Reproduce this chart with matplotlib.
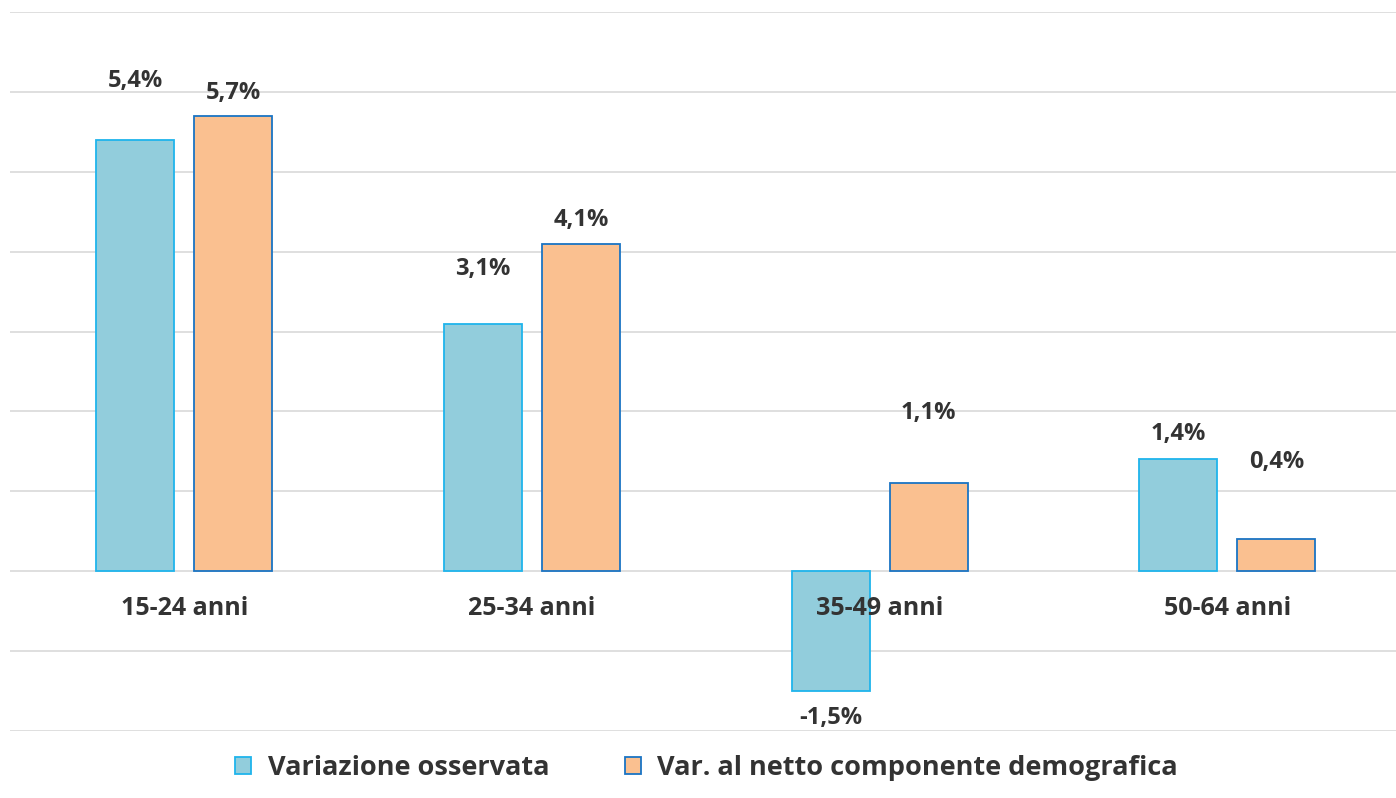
import matplotlib
matplotlib.use("Agg")
import matplotlib.pyplot as plt
from matplotlib.patches import Patch
from matplotlib.transforms import offset_copy
import numpy as np

categories = ["15-24 anni", "25-34 anni", "35-49 anni", "50-64 anni"]
observed = [5.4, 3.1, -1.5, 1.4]
net_demo = [5.7, 4.1, 1.1, 0.4]
series_names = ["Variazione osservata", "Var. al netto componente demografica"]
label_obs = ["5,4%", "3,1%", "-1,5%", "1,4%"]
label_net = ["5,7%", "4,1%", "1,1%", "0,4%"]

# label offsets (pixels, from bar end)
off_obs = [59, 55, -27, 25]
off_net = [23, 24, 70, 77]

plt.rcParams['font.family'] = ['Open Sans', 'DejaVu Sans']
txt = '#333333'

fig = plt.figure(figsize=(13.96, 7.98), dpi=100)
ax = fig.add_axes([10/1396, 67/798, 1386/1396, (731-12)/798])

x = np.arange(len(categories))
w = 0.224
d = 0.141
ax.bar(x - d, observed, w, color='#92CDDC', edgecolor='#1FB4EC', linewidth=1.3, zorder=3)
ax.bar(x + d, net_demo, w, color='#FAC090', edgecolor='#1A74C4', linewidth=1.3, zorder=3)

ax.set_xlim(-0.501, 3.485)
ax.set_ylim(-2, 7)
ax.set_yticks(np.arange(-2, 8, 1))
ax.yaxis.grid(True, color='#D9D9D9', linewidth=1.2, zorder=0)
ax.set_axisbelow(True)
ax.tick_params(left=False, bottom=False, labelleft=False, labelbottom=False)
for s in ax.spines.values():
    s.set_visible(False)

def px(o):
    return o * 72 / fig.dpi

for i in range(len(categories)):
    for xi, v, lab, off in [(x[i] - d, observed[i], label_obs[i], off_obs[i]),
                            (x[i] + d, net_demo[i], label_net[i], off_net[i])]:
        tr = offset_copy(ax.transData, fig=fig, x=0, y=px(off), units='points')
        ax.text(xi, v, lab, transform=tr, ha='center', va='center',
                fontsize=17, fontweight='bold', color=txt, zorder=5)
    tr = offset_copy(ax.transData, fig=fig, x=0, y=px(-37), units='points')
    ax.text(x[i], 0, categories[i], transform=tr, ha='center', va='center',
            fontsize=18, fontweight='bold', color=txt, zorder=5)

handles = [Patch(facecolor='#92CDDC', edgecolor='#1FB4EC', linewidth=1.3),
           Patch(facecolor='#FAC090', edgecolor='#1A74C4', linewidth=1.3)]
leg = fig.legend(handles, series_names, loc='center', bbox_to_anchor=(706.5/1396, 1 - 768/798),
                 ncol=2, frameon=False, handlelength=0.6, handleheight=0.6,
                 handletextpad=0.6, columnspacing=2.8,
                 prop={'family': ['Open Sans', 'DejaVu Sans'], 'weight': 'bold', 'size': 19.5})
for t in leg.get_texts():
    t.set_color(txt)

fig.savefig('out.png', dpi=100)
